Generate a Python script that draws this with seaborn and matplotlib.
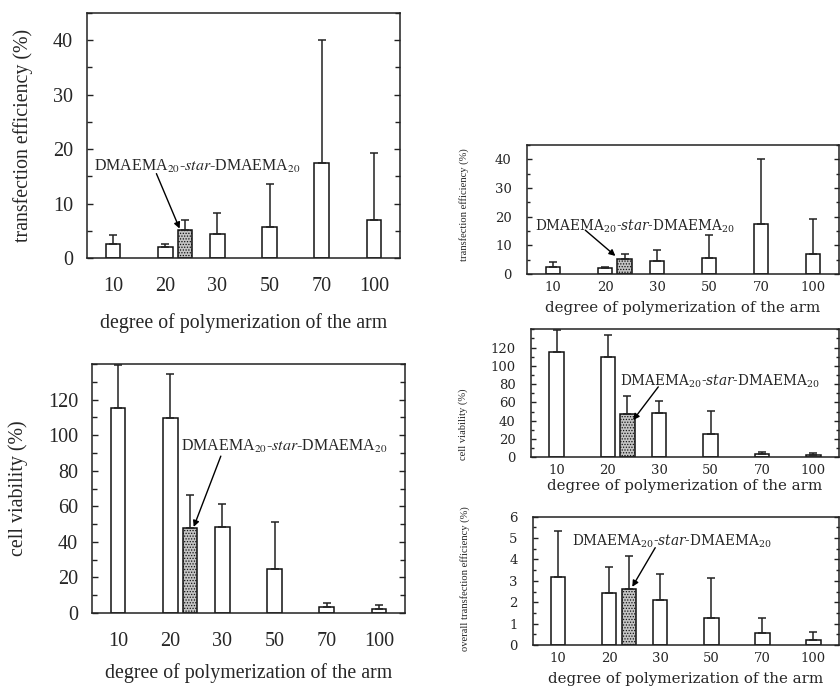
import matplotlib.pyplot as plt
import matplotlib.ticker as mticker
import numpy as np
import pandas as pd
import seaborn as sns

sns.set_theme(style="ticks")
plt.rcParams['font.family'] = ['Liberation Serif', 'DejaVu Serif']
plt.rcParams['hatch.linewidth'] = 0.6

# bar order: DP 10, 20, star polymer, 30, 50, 70, 100
dp_labels = ['10', '20', '30', '50', '70', '100']
kinds = ['linear', 'linear', 'star', 'linear', 'linear', 'linear', 'linear']
star_label = r'DMAEMA$_{20}$-$\mathit{star}$-DMAEMA$_{20}$'
xlabel = 'degree of polymerization of the arm'

transfection_mean = [2.6, 2.1, 5.2, 4.4, 5.7, 17.5, 6.9]
transfection_sd = [1.6, 0.4, 1.7, 3.9, 7.9, 22.5, 12.3]
viability_mean = [115.3, 109.5, 47.8, 48.5, 25.0, 3.4, 2.4]
viability_sd = [24.1, 24.6, 18.8, 12.8, 26.0, 2.2, 2.1]
overall_mean = [3.19, 2.41, 2.60, 2.09, 1.26, 0.58, 0.22]
overall_sd = [2.12, 1.22, 1.57, 1.23, 1.89, 0.70, 0.40]

STAR_OFFSET = 0.38
BAR_W = 0.28

base = np.arange(len(dp_labels), dtype=float)
positions = np.insert(base, 2, base[1] + STAR_OFFSET)
star_pos = positions[kinds.index('star')]

LEFT = dict(font='Liberation Serif', math='stix', tick=14.5, label=14.3, ann=11.5,
            ylabel_font='Liberation Serif', ylabel_size=14.3,
            xpad=14, ypad=10, major_len=4.5, minor_len=3.5)
RIGHT = dict(font='DejaVu Serif', math='dejavuserif', tick=9.5, label=10.8, ann=9.8,
             ylabel_font=['Liberation Sans Narrow', 'Liberation Serif'], ylabel_size=7.6,
             xpad=5, ypad=11, major_len=3.5, minor_len=2.5)


def draw_panel(fig, rect, mean, sd, ylim, major, minor, ymax_label, ylabel, st,
               ylabel_xy, xlabel_y, text_xy, arrow_start, arrow_tip):
    ax = fig.add_axes(rect)
    df = pd.DataFrame({'pos': positions, 'value': mean, 'kind': kinds})
    min_gap = np.min(np.diff(np.sort(positions)))
    sns.barplot(data=df, x='pos', y='value', hue='kind', native_scale=True, dodge=False,
                palette={'linear': 'white', 'star': '#c4c4c4'}, width=BAR_W / min_gap,
                edgecolor='#111111', linewidth=1.1, errorbar=None, legend=False, ax=ax)
    # stipple texture on the star-polymer bar
    for patch in ax.patches:
        if abs(patch.get_x() + patch.get_width() / 2 - star_pos) < 0.01:
            patch.set_hatch('......')
    ax.errorbar(positions, mean, yerr=[np.zeros(len(sd)), sd], fmt='none',
                ecolor='#222222', elinewidth=1.1, capsize=2.6, capthick=1.1, zorder=1)

    ax.set_xlim(-0.5, len(dp_labels) - 0.5)
    ax.set_ylim(*ylim)
    ax.set_xticks(base, labels=dp_labels)
    ax.set_yticks(np.arange(0, ymax_label + major / 2, major))
    ax.yaxis.set_minor_locator(mticker.MultipleLocator(minor))
    ax.tick_params(axis='x', length=0, pad=st['xpad'], labelsize=st['tick'])
    ax.tick_params(axis='y', which='both', direction='in', left=True, right=True,
                   pad=st['ypad'], labelsize=st['tick'], width=1.0, color='#222222')
    ax.tick_params(axis='y', which='major', length=st['major_len'])
    ax.tick_params(axis='y', which='minor', length=st['minor_len'])
    for lab in ax.get_xticklabels() + ax.get_yticklabels():
        lab.set_fontfamily(st['font'])
    for sp in ax.spines.values():
        sp.set_visible(True)
        sp.set_linewidth(1.1)
        sp.set_color('#222222')

    ax.set_xlabel(xlabel, fontsize=st['label'], fontfamily=st['font'])
    ax.xaxis.set_label_coords(0.5, xlabel_y)
    ax.set_ylabel(ylabel, fontsize=st['ylabel_size'], fontfamily=st['ylabel_font'])
    ax.yaxis.set_label_coords(*ylabel_xy)

    ax.text(text_xy[0], text_xy[1], star_label, ha='left', va='center',
            fontsize=st['ann'], fontfamily=st['font'], math_fontfamily=st['math'])
    ax.annotate('', xy=arrow_tip, xytext=arrow_start,
                arrowprops=dict(arrowstyle='-|>', color='black', lw=1.0,
                                mutation_scale=9, shrinkA=0, shrinkB=0))
    return ax


fig = plt.figure(figsize=(8.4, 6.86), dpi=100)

# left column, large panels
draw_panel(fig, [0.1036, 0.6239, 0.3726, 0.3571], transfection_mean, transfection_sd,
           (0, 45), 10, 5, 40, 'transfection efficiency (%)', LEFT,
           (-0.173, 0.5), -0.224, (-0.36, 16.8), (0.83, 15.5), (1.275, 5.4))
draw_panel(fig, [0.1095, 0.1064, 0.3726, 0.3630], viability_mean, viability_sd,
           (0, 140), 20, 10, 120, 'cell viability (%)', LEFT,
           (-0.204, 0.5), -0.202, (1.21, 93.8), (1.97, 88.2), (1.45, 48.4))

# right column, small panels
draw_panel(fig, [0.6274, 0.6006, 0.3714, 0.1880], transfection_mean, transfection_sd,
           (0, 45), 10, 5, 40, 'transfection efficiency (%)', RIGHT,
           (-0.186, 0.535), -0.207, (-0.34, 16.5), (0.62, 15.3), (1.2, 6.3))
draw_panel(fig, [0.6321, 0.3334, 0.3667, 0.1866], viability_mean, viability_sd,
           (0, 140), 20, 10, 120, 'cell viability (%)', RIGHT,
           (-0.205, 0.26), -0.172, (1.23, 83.2), (1.98, 77.0), (1.49, 40.7))
draw_panel(fig, [0.6342, 0.0598, 0.3646, 0.1870], overall_mean, overall_sd,
           (0, 6), 1, 0.5, 6, 'overall transfection efficiency (%)', RIGHT,
           (-0.205, 0.52), -0.208, (0.26, 4.86), (1.9, 4.55), (1.45, 2.72))

fig.savefig('out.png', dpi=100, facecolor='white')
